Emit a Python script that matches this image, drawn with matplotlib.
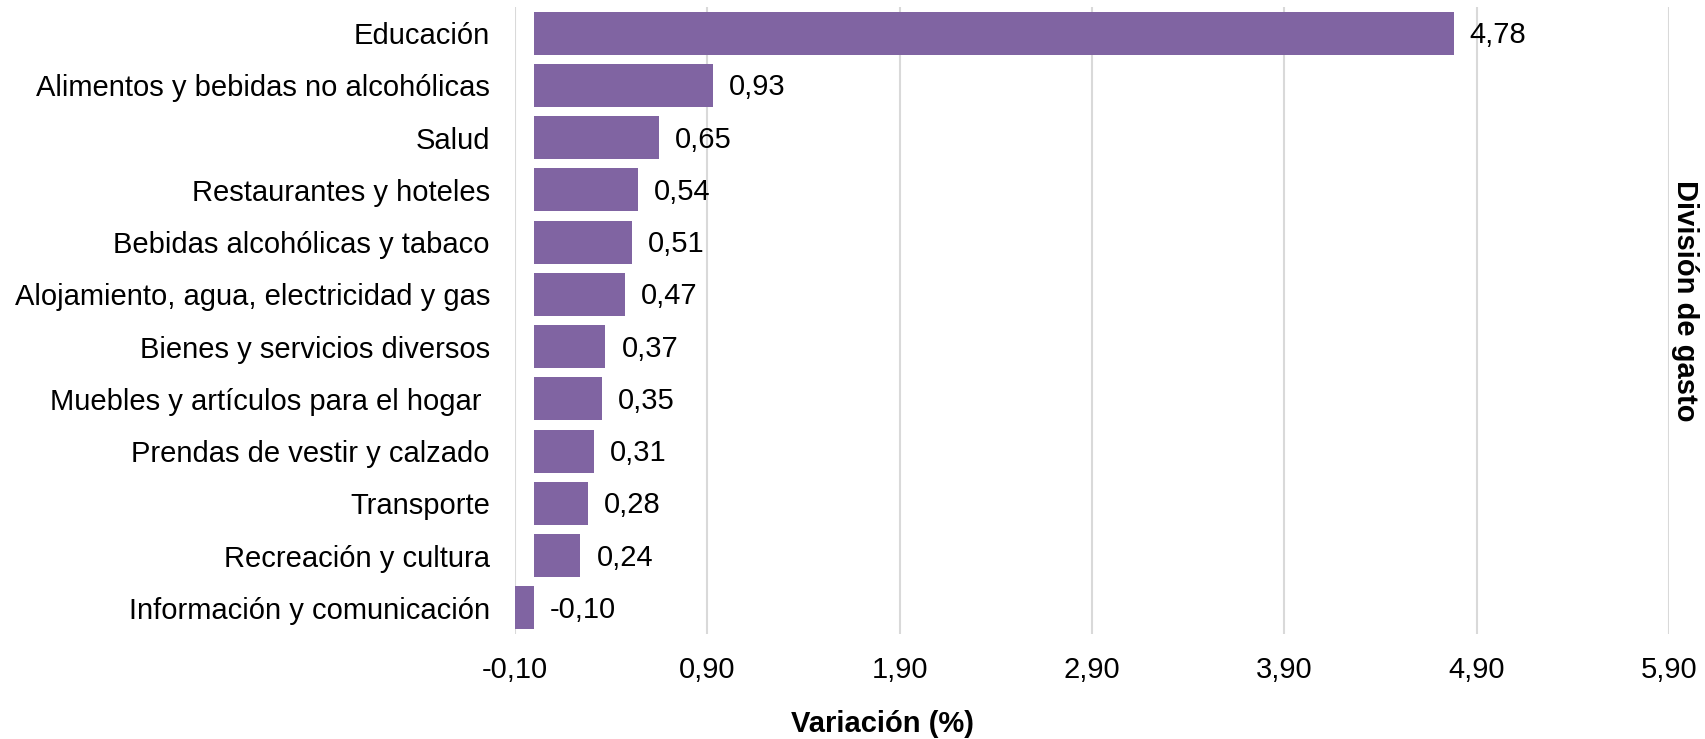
import matplotlib
matplotlib.use('Agg')
import matplotlib.pyplot as plt

plt.rcParams['font.family'] = ['Liberation Sans', 'DejaVu Sans']

# Data
categorias = ['Educación', 'Alimentos y bebidas no alcohólicas', 'Salud',
              'Restaurantes y hoteles', 'Bebidas alcohólicas y tabaco',
              'Alojamiento, agua, electricidad y gas', 'Bienes y servicios diversos',
              'Muebles y artículos para el hogar ', 'Prendas de vestir y calzado',
              'Transporte', 'Recreación y cultura', 'Información y comunicación']
variacion = [4.78, 0.93, 0.65, 0.54, 0.51, 0.47, 0.37, 0.35, 0.31, 0.28, 0.24, -0.10]
ticks_x = [-0.10, 0.90, 1.90, 2.90, 3.90, 4.90, 5.90]

W, H = 1706, 739
fs = 21
fig = plt.figure(figsize=(W / 100, H / 100), dpi=100)
ax = fig.add_axes([515 / W, 1 - 634 / H, (1669 - 515) / W, (634 - 7) / H])

y = range(len(categorias))
ax.barh(y, variacion, height=0.82, color='#8064A2', zorder=3)

# value labels
for i, v in enumerate(variacion):
    ax.annotate(f'{v:.2f}'.replace('.', ','), xy=(max(v, 0), i), xytext=(16, -2),
                textcoords='offset pixels', va='center', ha='left', fontsize=fs)

ax.set_xlim(-0.10, 5.90)
ax.set_ylim(len(categorias) - 0.5, -0.5)
ax.set_xticks(ticks_x)
ax.set_xticklabels([f'{t:.2f}'.replace('.', ',') for t in ticks_x])
ax.set_yticks(list(y))
ax.set_yticklabels(categorias)
ax.tick_params(axis='both', length=0, labelsize=fs)
ax.tick_params(axis='y', pad=18)
ax.tick_params(axis='x', pad=16)

ax.grid(axis='x', color='#d9d9d9', linewidth=1.5, zorder=0)
for s in ax.spines.values():
    s.set_visible(False)

fig.text(883 / W, 1 - 724 / H, 'Variación (%)', fontsize=fs, fontweight='bold',
         ha='center', va='center')
fig.text(1685 / W, 1 - 301 / H, 'División de gasto', rotation=-90, fontsize=fs,
         fontweight='bold', ha='center', va='center')

fig.savefig('out.png', dpi=100)
